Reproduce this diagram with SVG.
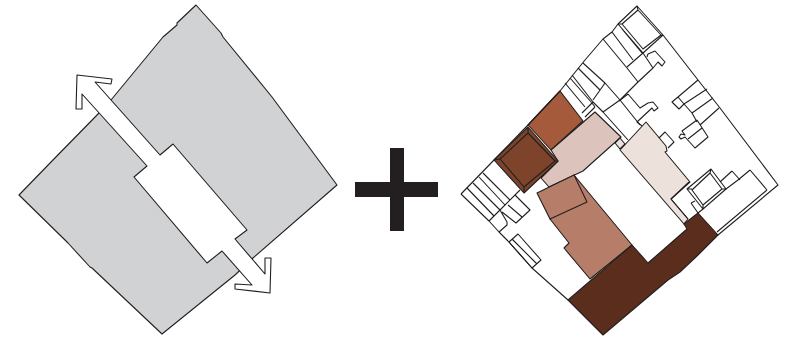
<svg xmlns="http://www.w3.org/2000/svg" width="787" height="338" viewBox="0 0 787 338">
<style>
.l{fill:none;stroke:#231f20;stroke-width:1.1;stroke-linejoin:round}
.s{stroke:#231f20;stroke-width:1.1;stroke-linejoin:round}
</style>
<rect width="787" height="338" fill="#fff"/>
<g id="site-plan-left">
<polygon class="s" fill="#d1d2d4" points="111,100 163,37 177,25 177,23 196,5 221,33 223,37 272,97 337,185 253,258 235,275 162,334 92,268 90,267 68,243 65,240 19,195 52,161 99,113"/>
</g>
<g id="arrow">
<polygon class="s" fill="#fff" points="77,75 112,79 111,84 95,82 160,155 173,144 247,230 235,239 265,274 265,258 271,258 270,293 235,289 235,284 252,285 222,251 207,263 134,177 147,166 82,94 82,109 76,109"/>
</g>
<g id="plus">
<polygon fill="#231f20" points="390,148 404,148 404,182 438,182 438,197 404,197 404,231 390,231 390,197 355,197 355,182 390,182"/>
</g>
<g id="site-plan-right">
<polygon id="brown" class="s" fill="#a55a3c" points="560,91 583,121 551,150 528,125"/>
<polygon id="pink" class="s" fill="#dcc3bc" points="595,112 621,137 583,171 549,187 541,178 558,161 551,150"/>
<polygon id="pale" class="s" fill="#ede1dc" points="646,122 666,146 667,151 665,152 690,182 671,199 688,219 684,224 620,150"/>
<polygon id="patch" class="s" fill="#ede1dc" points="620,138 615,143 620,149 625,144"/>
<polygon id="medium" class="s" fill="#b67e69" points="574,175 632,245 590,279 564,248 569,243 550,219"/>
<polygon id="medium-box" class="s" fill="#b67e69" points="537,193 574,175 587,202 550,219"/>
<polygon id="dark" class="s" fill="#5a2d1c" points="568,300 632,245 648,263 687,229 684,224 698,213 718,235 698,255 680,272 668,280 603,335"/>
<polygon id="square" class="s" fill="#7d442b" points="528,127 558,161 524,193 494,160"/>
<polygon class="l" points="528,133 555,161 524,187 500,159"/>
<path class="l" d="M528,127V133M558,161H555M524,193V187M494,160L500,159"/>
<g id="lines">
<path class="l" d="M603,112L628,140M620,100L640,125M638,82L620,100L603,112L593,102M605,83L620,100M605,83L593,100"/>
<path class="l" d="M461,194L494,160L528,125L560,91L585,60L603,39L612,32L618,24L637,6L663,35L698,80L720,108L778,185L718,235"/>
<path class="l" d="M618,24L643,53L663,35M622,29L642,53M622,24L643,49L661,35L638,10ZM637,6L638,10M663,35H661M618,24H622"/>
<path class="l" d="M612,32L633,60M603,39L627,68L638,82M627,67L643,53L653,68M638,82L653,68L658,62L662,66L665,62L655,51L648,54L647,57"/>
<path class="l" d="M583,63L605,83M578,68L600,90M572,75L593,102M570,78L592,103M565,83L585,107M593,102L582,113M595,107L585,117M592,103L595,107"/>
<path class="l" d="M628,94L619,101M628,94L640,108L648,103L653,102L658,108L654,111L652,108L637,122L642,126"/>
<path class="l" d="M659,138L665,132L674,142L668,148"/>
<path class="l" d="M698,80L678,97L672,102L679,109L684,104L678,97M707,89L684,104L692,113L697,122M713,98L692,113M719,108L700,125"/>
<path class="l" d="M697,120L682,131L685,135L681,134L679,137L681,139L685,137L695,148L708,137L697,120M688,139L702,128"/>
<path class="l" d="M767,190L717,232M750,170L767,190M750,170L738,180M732,171L740,180M732,171L720,182"/>
<path class="l" d="M711,169L726,189L703,209L687,189ZM710,173L722,189L703,205L692,190ZM711,169L710,173M726,189H722M703,209V205M687,189H692"/>
<path class="l" d="M671,199L689,182M671,199L688,219M691,203L695,201M691,203L698,213L703,209M726,189L738,180"/>
<path class="l" d="M461,194L489,221L499,232L508,241M508,241L532,268L568,300"/>
<path class="l" d="M509,242L518,234L541,260L532,268ZM512,239L537,264"/>
<path class="l" d="M467,188L494,216M473,183L500,210M479,177L505,205M483,173L510,200"/>
<path class="l" d="M500,210L520,190M515,195L530,210L516,223L502,212M508,205L522,217M489,221L500,210L507,222V225L499,232"/>
</g>
</g>
</svg>
